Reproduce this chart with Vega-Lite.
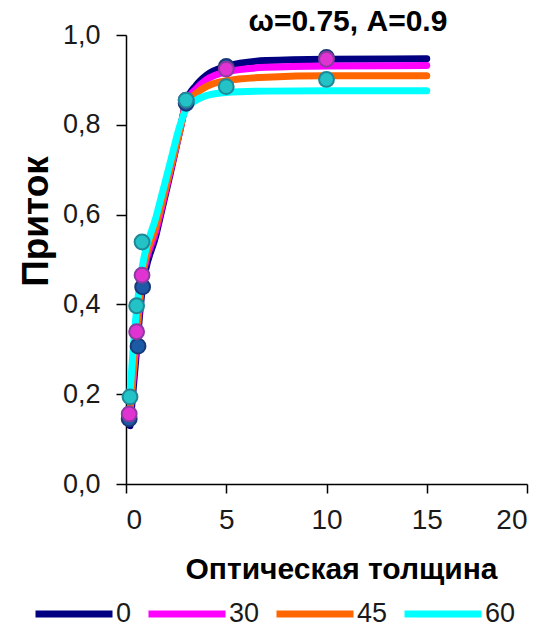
{
  "$schema": "https://vega.github.io/schema/vega-lite/v6.json",
  "autosize": "none",
  "width": 401,
  "height": 449,
  "padding": {"left": 126, "top": 35, "right": 23, "bottom": 143},
  "background": "white",
  "config": {
    "font": "Liberation Sans",
    "view": {"stroke": null},
    "axis": {"grid": false, "domainColor": "#000", "tickColor": "#000", "domainWidth": 1.5, "tickWidth": 1.5, "labelColor": "#1a1a1a", "labelFont": "Liberation Sans", "titleFont": "Liberation Sans", "titleColor": "#000", "titleFontWeight": "bold"}
  },
  "datasets": {
    "lines": [
      {"tau": 0.2, "v": 0.13, "s": "0"}, {"tau": 0.53, "v": 0.3, "s": "0"}, {"tau": 0.8, "v": 0.43, "s": "0"}, {"tau": 1.5, "v": 0.555, "s": "0"}, {"tau": 2.2, "v": 0.69, "s": "0"}, {"tau": 2.7, "v": 0.79, "s": "0"}, {"tau": 3, "v": 0.85, "s": "0"}, {"tau": 3.5, "v": 0.888, "s": "0"}, {"tau": 4, "v": 0.91, "s": "0"}, {"tau": 5, "v": 0.93, "s": "0"}, {"tau": 7, "v": 0.943, "s": "0"}, {"tau": 10, "v": 0.946, "s": "0"}, {"tau": 15, "v": 0.947, "s": "0"},
      {"tau": 0.16, "v": 0.14, "s": "30"}, {"tau": 0.53, "v": 0.32, "s": "30"}, {"tau": 0.8, "v": 0.45, "s": "30"}, {"tau": 1.5, "v": 0.565, "s": "30"}, {"tau": 2.2, "v": 0.695, "s": "30"}, {"tau": 2.7, "v": 0.79, "s": "30"}, {"tau": 3, "v": 0.85, "s": "30"}, {"tau": 3.5, "v": 0.88, "s": "30"}, {"tau": 4, "v": 0.9, "s": "30"}, {"tau": 5, "v": 0.918, "s": "30"}, {"tau": 7, "v": 0.928, "s": "30"}, {"tau": 10, "v": 0.931, "s": "30"}, {"tau": 15, "v": 0.932, "s": "30"},
      {"tau": 0.18, "v": 0.15, "s": "45"}, {"tau": 0.53, "v": 0.34, "s": "45"}, {"tau": 0.8, "v": 0.46, "s": "45"}, {"tau": 1.5, "v": 0.575, "s": "45"}, {"tau": 2.2, "v": 0.7, "s": "45"}, {"tau": 2.7, "v": 0.79, "s": "45"}, {"tau": 3, "v": 0.845, "s": "45"}, {"tau": 3.5, "v": 0.87, "s": "45"}, {"tau": 4, "v": 0.885, "s": "45"}, {"tau": 5, "v": 0.898, "s": "45"}, {"tau": 7, "v": 0.906, "s": "45"}, {"tau": 10, "v": 0.909, "s": "45"}, {"tau": 15, "v": 0.909, "s": "45"},
      {"tau": 0.18, "v": 0.19, "s": "60"}, {"tau": 0.5, "v": 0.375, "s": "60"}, {"tau": 0.8, "v": 0.48, "s": "60"}, {"tau": 1.5, "v": 0.595, "s": "60"}, {"tau": 2.2, "v": 0.715, "s": "60"}, {"tau": 2.7, "v": 0.8, "s": "60"}, {"tau": 3, "v": 0.835, "s": "60"}, {"tau": 3.5, "v": 0.855, "s": "60"}, {"tau": 4, "v": 0.865, "s": "60"}, {"tau": 5, "v": 0.872, "s": "60"}, {"tau": 7, "v": 0.875, "s": "60"}, {"tau": 10, "v": 0.876, "s": "60"}, {"tau": 15, "v": 0.876, "s": "60"}
    ],
    "points": [
      {"tau": 0.16, "v": 0.145, "g": "0"}, {"tau": 0.6, "v": 0.307, "g": "0"}, {"tau": 0.83, "v": 0.439, "g": "0"}, {"tau": 3, "v": 0.848, "g": "0"}, {"tau": 5, "v": 0.93, "g": "0"}, {"tau": 10, "v": 0.95, "g": "0"},
      {"tau": 0.16, "v": 0.156, "g": "30"}, {"tau": 0.53, "v": 0.339, "g": "30"}, {"tau": 0.8, "v": 0.465, "g": "30"}, {"tau": 3, "v": 0.855, "g": "30"}, {"tau": 5, "v": 0.924, "g": "30"}, {"tau": 10, "v": 0.946, "g": "30"},
      {"tau": 0.2, "v": 0.194, "g": "60"}, {"tau": 0.53, "v": 0.397, "g": "60"}, {"tau": 0.8, "v": 0.539, "g": "60"}, {"tau": 3, "v": 0.855, "g": "60"}, {"tau": 5, "v": 0.885, "g": "60"}, {"tau": 10, "v": 0.901, "g": "60"}
    ],
    "heading": [{"label": "ω=0.75, A=0.9"}]
  },
  "layer": [
    {
      "data": {"name": "lines"},
      "mark": {"type": "line", "interpolate": "monotone", "strokeWidth": 7, "strokeCap": "round", "strokeJoin": "round"},
      "encoding": {
        "x": {"field": "tau", "type": "quantitative", "scale": {"domain": [0, 20], "nice": false}, "axis": {"values": [0, 5, 10, 15, 20], "tickSize": 9, "labelPadding": 13, "labelFontSize": 28, "title": "Оптическая толщина", "titleFontSize": 30, "titleX": 215, "titleY": 85, "titleBaseline": "middle"}},
        "y": {"field": "v", "type": "quantitative", "scale": {"domain": [0, 1], "nice": false}, "axis": {"values": [0, 0.2, 0.4, 0.6, 0.8, 1.0], "tickSize": 10, "labelPadding": 16, "labelFontSize": 27, "labelExpr": "replace(format(datum.value, '.1f'), '.', ',')", "title": "Приток", "titleFontSize": 37, "titleX": -90, "titleY": 186, "titleAlign": "center", "titleBaseline": "middle", "titleAngle": -90}},
        "color": {"field": "s", "type": "nominal", "scale": {"domain": ["0", "30", "45", "60"], "range": ["#000080", "#ff00ff", "#ff6600", "#00ffff"]}, "legend": {"title": null, "orient": "none", "direction": "horizontal", "legendX": -94, "legendY": 537, "symbolType": "stroke", "symbolSize": 5929, "symbolStrokeWidth": 7, "labelFontSize": 27, "labelColor": "#1a1a1a", "labelFont": "Liberation Sans", "labelOffset": 0, "columnPadding": 2}}
      }
    },
    {
      "data": {"name": "points"},
      "mark": {"type": "point", "shape": "circle", "filled": true, "size": 220, "strokeWidth": 2, "opacity": 1},
      "encoding": {
        "x": {"field": "tau", "type": "quantitative"},
        "y": {"field": "v", "type": "quantitative"},
        "fill": {"field": "g", "type": "nominal", "scale": {"domain": ["0", "30", "60"], "range": ["#1c5aa6", "#e033d2", "#22c2c6"]}, "legend": null},
        "stroke": {"field": "g", "type": "nominal", "scale": {"domain": ["0", "30", "60"], "range": ["#1a3878", "#8a3aa0", "#1f8898"]}, "legend": null}
      }
    },
    {
      "data": {"name": "heading"},
      "mark": {"type": "text", "fontSize": 30, "fontWeight": "bold", "font": "Liberation Sans", "align": "center", "baseline": "alphabetic", "color": "#000"},
      "encoding": {
        "text": {"field": "label", "type": "nominal"},
        "x": {"datum": 11.07},
        "y": {"datum": 1.009}
      }
    }
  ]
}
